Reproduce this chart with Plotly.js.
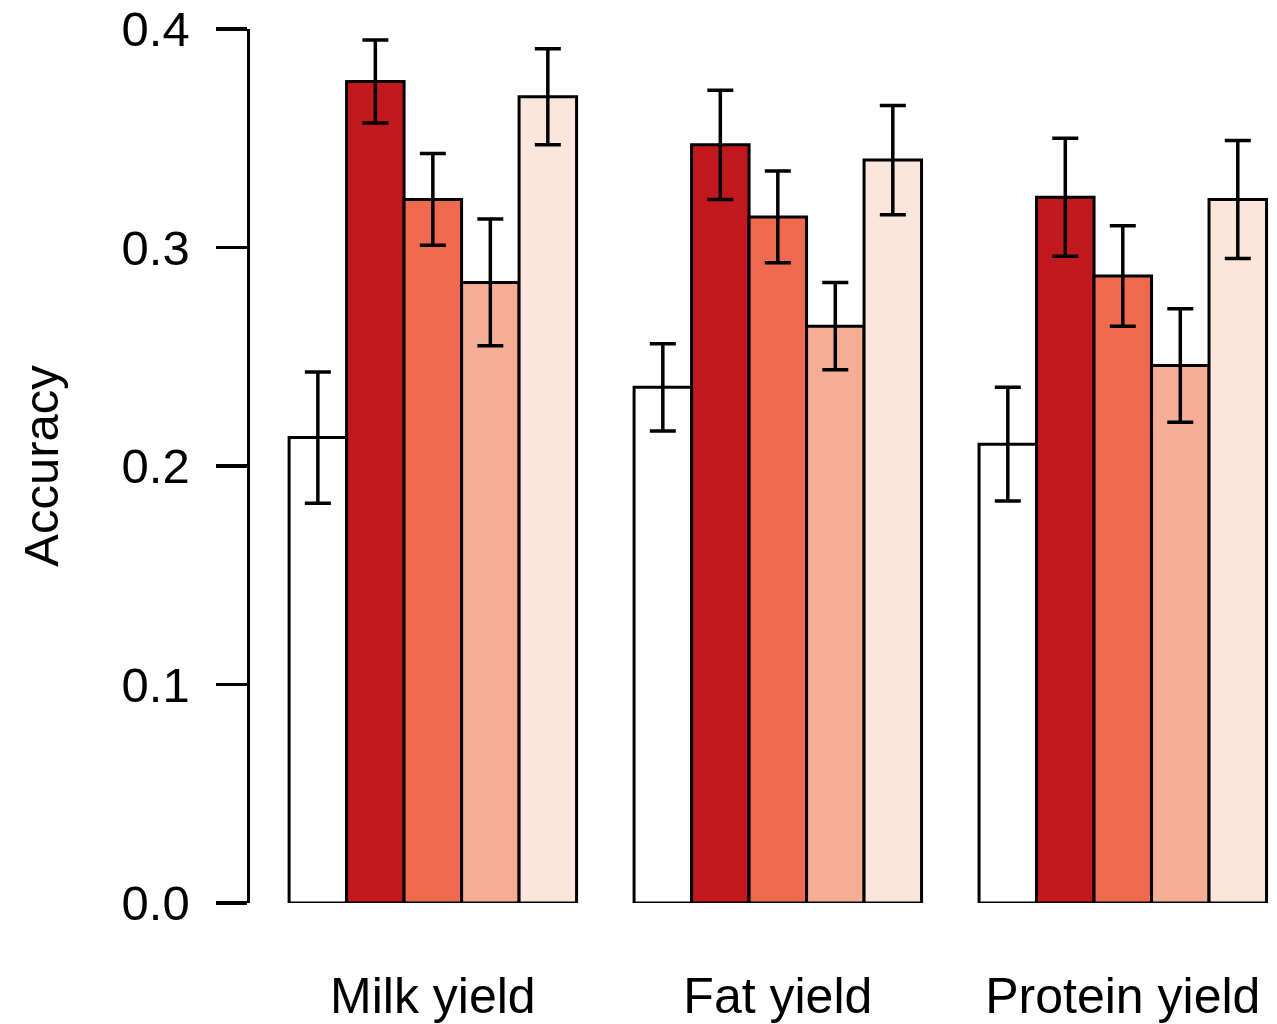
<!DOCTYPE html>
<html>
<head>
<meta charset="utf-8">
<script src="https://cdn.plot.ly/plotly-3.0.1.min.js"></script>
<style>html,body{margin:0;padding:0;background:#fff;}#chart{width:1277px;height:1024px;}</style>
</head>
<body>
<div id="chart"></div>
<script>
// Categories (traits)
const traits = ["Milk yield", "Fat yield", "Protein yield"];
// Series (five methods, left to right within each group)
const seriesNames = ["Method 1", "Method 2", "Method 3", "Method 4", "Method 5"];
const seriesColors = ["#ffffff", "#c2191f", "#f06a4f", "#f5ae94", "#fce5db"];
// Accuracy values per series, per trait
const acc1 = [0.213, 0.236, 0.210];
const acc2 = [0.376, 0.347, 0.323];
const acc3 = [0.322, 0.314, 0.287];
const acc4 = [0.284, 0.264, 0.246];
const acc5 = [0.369, 0.340, 0.322];
// Error (upper / lower) per series, per trait
const errHi1 = [0.030, 0.020, 0.026];
const errLo1 = [0.030, 0.020, 0.026];
const errHi2 = [0.019, 0.025, 0.027];
const errLo2 = [0.019, 0.025, 0.027];
const errHi3 = [0.021, 0.021, 0.023];
const errLo3 = [0.021, 0.021, 0.023];
const errHi4 = [0.029, 0.020, 0.026];
const errLo4 = [0.029, 0.020, 0.026];
const errHi5 = [0.022, 0.025, 0.027];
const errLo5 = [0.022, 0.025, 0.027];
// Y tick values
const yTicks = [0.0, 0.1, 0.2, 0.3, 0.4];
const yTickText = ["0.0", "0.1", "0.2", "0.3", "0.4"];

const accs = [acc1, acc2, acc3, acc4, acc5];
const his = [errHi1, errHi2, errHi3, errHi4, errHi5];
const los = [errLo1, errLo2, errLo3, errLo4, errLo5];

const FONT = '"Liberation Sans", Arial, Helvetica, sans-serif';

const data = accs.map((a, i) => ({
  type: "bar",
  name: seriesNames[i],
  x: traits,
  y: a,
  marker: { color: seriesColors[i], line: { color: "#000000", width: 3 } },
  error_y: {
    type: "data", symmetric: false,
    array: his[i], arrayminus: los[i],
    color: "#000000", thickness: 3.5, width: 13
  },
  showlegend: false
}));

const layout = {
  width: 1277, height: 1024,
  margin: { l: 250, r: 0, t: 29, b: 121, pad: 0 },
  paper_bgcolor: "#ffffff", plot_bgcolor: "#ffffff",
  font: { family: FONT, size: 50, color: "#000000" },
  barmode: "group",
  bargap: 1/6,
  bargroupgap: 0,
  xaxis: {
    type: "category",
    range: [-0.530, 2.447],
    showline: false, showgrid: false, zeroline: false,
    ticks: "",
    ticklabelstandoff: 59,
    tickfont: { family: FONT, size: 50, color: "#000000" }
  },
  yaxis: {
    range: [0, 0.4],
    tickvals: yTicks, ticktext: yTickText,
    showline: true, linecolor: "#000000", linewidth: 3.5,
    ticks: "outside", ticklen: 31, tickwidth: 3.5, tickcolor: "#000000",
    ticklabelstandoff: 16,
    showgrid: false, zeroline: false,
    tickfont: { family: FONT, size: 49, color: "#000000" },
    title: { text: "Accuracy", font: { family: FONT, size: 49, color: "#000000" }, standoff: 48 }
  }
};

Plotly.newPlot("chart", data, layout, { staticPlot: true, displayModeBar: false });
</script>
</body>
</html>
